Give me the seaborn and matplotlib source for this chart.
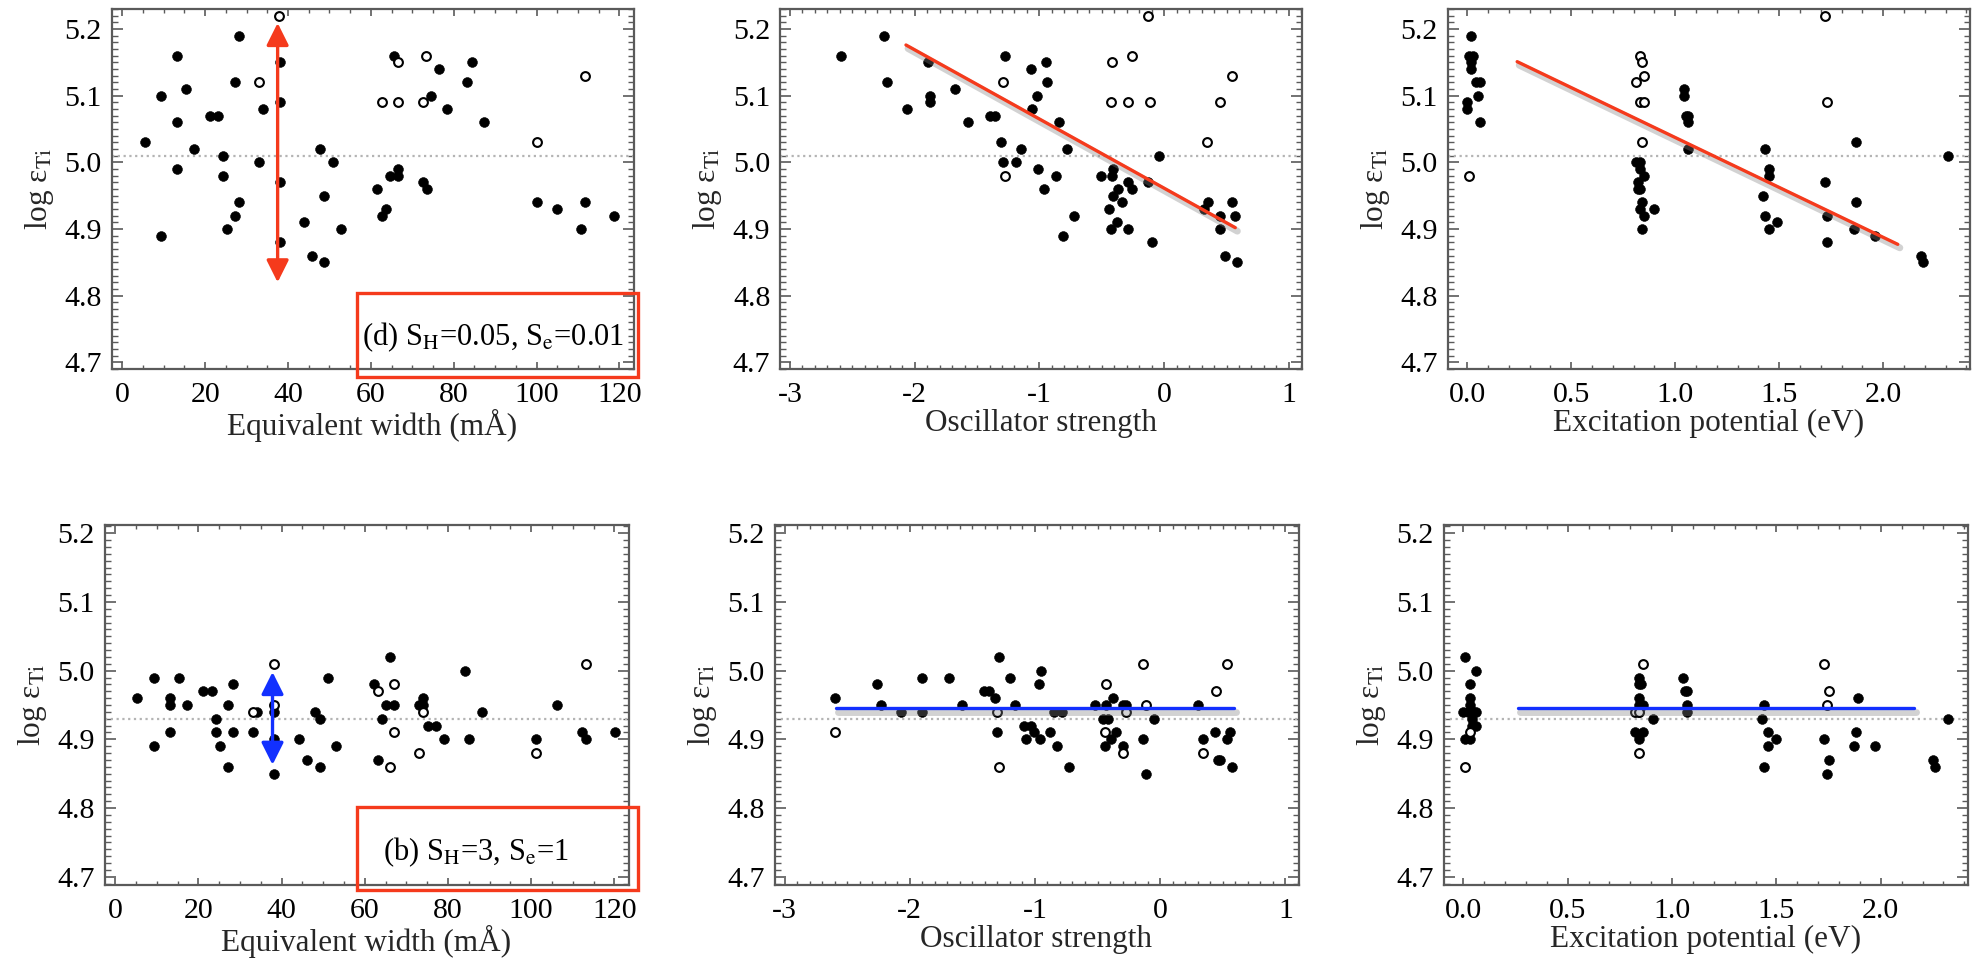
import matplotlib
matplotlib.use("Agg")
import matplotlib.pyplot as plt
import matplotlib.patheffects as pe
from matplotlib.patches import Rectangle
from matplotlib.ticker import MultipleLocator, FormatStrFormatter
import pandas as pd
import seaborn as sns

# ---------------- Model (d): S_H = 0.05, S_e = 0.01 ----------------
d_ew_fill_x = [5.5, 9.3, 9.3, 13.3, 13.3, 13.3, 15.3, 17.3, 21.2, 23.2, 24.2, 24.2, 25.2,
               27.2, 28.2, 27.2, 28.2, 33.0, 34.0, 38.0, 38.0, 38.0, 38.0, 43.8, 45.8,
               47.8, 48.8, 48.8, 50.8, 52.8, 61.6, 62.6, 63.6, 65.5, 64.6, 66.5, 66.5,
               72.5, 73.5, 74.5, 76.4, 78.4, 83.3, 84.3, 87.2, 100.0, 104.9, 110.8,
               111.8, 118.6]
d_ew_fill_y = [5.03, 5.10, 4.89, 5.16, 5.06, 4.99, 5.11, 5.02, 5.07, 5.07, 5.01, 4.98, 4.90,
               4.92, 4.94, 5.12, 5.19, 5.00, 5.08, 5.15, 5.09, 4.97, 4.88, 4.91, 4.86,
               5.02, 4.95, 4.85, 5.00, 4.90, 4.96, 4.92, 4.93, 5.16, 4.98, 4.99, 4.98,
               4.97, 4.96, 5.10, 5.14, 5.08, 5.12, 5.15, 5.06, 4.94, 4.93, 4.90,
               4.94, 4.92]
d_ew_open_x = [37.8, 33.0, 62.6, 66.5, 66.5, 72.5, 73.3, 100.0, 111.8]
d_ew_open_y = [5.22, 5.12, 5.09, 5.15, 5.09, 5.09, 5.16, 5.03, 5.13]

d_gf_fill_x = [-2.59, -2.25, -2.22, -2.06, -1.89, -1.88, -1.88, -1.68, -1.57, -1.40, -1.36,
               -1.31, -1.28, -1.29, -1.19, -1.15, -1.07, -1.06, -1.02, -1.01, -0.95, -0.94,
               -0.96, -0.87, -0.84, -0.81, -0.78, -0.72, -0.51, -0.44, -0.43, -0.42, -0.41,
               -0.41, -0.38, -0.37, -0.34, -0.29, -0.29, -0.26, -0.13, -0.10, -0.04, 0.32,
               0.35, 0.45, 0.45, 0.49, 0.54, 0.57, 0.58]
d_gf_fill_y = [5.16, 5.19, 5.12, 5.08, 5.15, 5.10, 5.09, 5.11, 5.06, 5.07, 5.07,
               5.03, 5.16, 5.00, 5.00, 5.02, 5.14, 5.08, 5.10, 4.99, 5.15, 5.12,
               4.96, 4.98, 5.06, 4.89, 5.02, 4.92, 4.98, 4.93, 4.90, 4.98, 4.99,
               4.95, 4.91, 4.96, 4.94, 4.97, 4.90, 4.96, 4.97, 4.88, 5.01, 4.93,
               4.94, 4.90, 4.92, 4.86, 4.94, 4.92, 4.85]
d_gf_open_x = [-0.13, -0.42, -0.26, -1.29, -1.28, -0.43, -0.29, -0.11, 0.34, 0.45, 0.54]
d_gf_open_y = [5.22, 5.15, 5.16, 5.12, 4.98, 5.09, 5.09, 5.09, 5.03, 5.09, 5.13]

d_ep_fill_x = [0.02, 0.01, 0.03, 0.02, 0.02, 0.04, 0.06, 0.05, 0.00, 0.00, 0.06,
               0.81, 0.83, 0.83, 0.85, 0.82, 0.83, 0.82, 0.84, 0.83, 0.85, 0.90, 0.84,
               1.04, 1.04, 1.05, 1.06, 1.06, 1.06,
               1.43, 1.45, 1.45, 1.42, 1.43, 1.45, 1.49,
               1.72, 1.73, 1.73, 1.87, 1.87, 1.86, 1.96, 2.18, 2.19, 2.31]
d_ep_fill_y = [5.19, 5.16, 5.16, 5.15, 5.14, 5.12, 5.12, 5.10, 5.09, 5.08, 5.06,
               5.00, 5.00, 4.99, 4.98, 4.97, 4.96, 4.96, 4.94, 4.93, 4.92, 4.93, 4.90,
               5.11, 5.10, 5.07, 5.07, 5.06, 5.02,
               5.02, 4.99, 4.98, 4.95, 4.92, 4.90, 4.91,
               4.97, 4.92, 4.88, 5.03, 4.94, 4.90, 4.89, 4.86, 4.85, 5.01]
d_ep_open_x = [0.01, 0.83, 0.84, 0.85, 0.81, 0.83, 0.85, 0.84, 1.72, 1.73]
d_ep_open_y = [4.98, 5.16, 5.15, 5.13, 5.12, 5.09, 5.09, 5.03, 5.22, 5.09]

d_mean = 5.01
d_gf_fit_x = [-2.07, 0.57]
d_gf_fit_y = [5.176, 4.902]
d_ep_fit_x = [0.24, 2.07]
d_ep_fit_y = [5.151, 4.877]

# ---------------- Model (b): S_H = 3, S_e = 1 ----------------
b_ew_fill_x = [5.2, 9.2, 9.2, 13.2, 13.2, 13.2, 15.2, 17.2, 21.2, 23.2, 24.2, 24.2, 25.2,
               27.1, 27.1, 28.2, 28.2, 33.1, 34.1, 38.1, 38.1, 38.1, 44.1, 46.1, 48.1,
               49.1, 49.1, 51.1, 53.1, 62.1, 63.1, 64.1, 65.1, 66.1, 67.1, 73.1, 74.1,
               74.1, 75.1, 77.2, 79.1, 84.0, 85.1, 88.1, 101.1, 106.1, 112.1, 113.1, 120.1]
b_ew_fill_y = [4.96, 4.99, 4.89, 4.96, 4.95, 4.91, 4.99, 4.95, 4.97, 4.97, 4.93, 4.91, 4.89,
               4.95, 4.86, 4.98, 4.91, 4.91, 4.94, 4.94, 4.90, 4.85, 4.90, 4.87, 4.94,
               4.93, 4.86, 4.99, 4.89, 4.98, 4.87, 4.93, 4.95, 5.02, 4.95, 4.95, 4.95,
               4.96, 4.92, 4.92, 4.90, 5.00, 4.90, 4.94, 4.90, 4.95, 4.91, 4.90, 4.91]
b_ew_open_x = [38.1, 38.1, 33.1, 63.1, 67.1, 67.1, 66.1, 74.1, 73.1, 101.1, 113.1]
b_ew_open_y = [5.01, 4.95, 4.94, 4.97, 4.98, 4.91, 4.86, 4.94, 4.88, 4.88, 5.01]

b_gf_fill_x = [-2.60, -2.26, -2.23, -2.07, -1.90, -1.90, -1.69, -1.58, -1.41, -1.37, -1.32,
               -1.29, -1.30, -1.20, -1.16, -1.09, -1.03, -1.07, -1.01, -0.97, -0.95, -0.96,
               -0.88, -0.85, -0.78, -0.82, -0.73, -0.52, -0.46, -0.42, -0.43, -0.38, -0.44,
               -0.35, -0.39, -0.30, -0.27, -0.30, -0.14, -0.05, -0.11, 0.30, 0.34, 0.44,
               0.46, 0.48, 0.53, 0.56, 0.57]
b_gf_fill_y = [4.96, 4.98, 4.95, 4.94, 4.99, 4.94, 4.99, 4.95, 4.97, 4.97, 4.96,
               5.02, 4.91, 4.99, 4.95, 4.92, 4.92, 4.90, 4.91, 4.98, 5.00, 4.90,
               4.91, 4.94, 4.94, 4.89, 4.86, 4.95, 4.93, 4.93, 4.95, 4.96, 4.89,
               4.91, 4.90, 4.95, 4.95, 4.89, 4.90, 4.93, 4.85, 4.95, 4.90, 4.91,
               4.87, 4.87, 4.90, 4.91, 4.86]
b_gf_open_x = [-2.60, -1.30, -1.29, -0.43, -0.44, -0.27, -0.30, -0.14, -0.11, 0.34, 0.45, 0.53]
b_gf_open_y = [4.91, 4.94, 4.86, 4.98, 4.91, 4.94, 4.88, 5.01, 4.95, 4.88, 4.97, 5.01]

b_ep_fill_x = [0.01, 0.03, 0.03, 0.03, 0.00, 0.02, 0.05, 0.06, 0.04, 0.04, 0.06, 0.01, 0.03,
               0.06, 0.84, 0.84, 0.85, 0.84, 0.84, 0.86, 0.84, 0.91, 0.82, 0.86, 0.84,
               1.05, 1.06, 1.07, 1.07, 1.07, 1.44, 1.43, 1.46, 1.46, 1.50, 1.44,
               1.73, 1.75, 1.74, 1.89, 1.88, 1.87, 1.97, 2.25, 2.26, 2.32]
b_ep_fill_y = [5.02, 4.98, 4.96, 4.95, 4.94, 4.94, 4.94, 4.94, 4.93, 4.92, 4.92, 4.90, 4.90,
               5.00, 4.99, 4.98, 4.98, 4.96, 4.95, 4.95, 4.94, 4.93, 4.91, 4.91, 4.90,
               4.99, 4.97, 4.97, 4.95, 4.94, 4.95, 4.93, 4.91, 4.89, 4.90, 4.86,
               4.90, 4.87, 4.85, 4.96, 4.91, 4.89, 4.89, 4.87, 4.86, 4.93]
b_ep_open_x = [0.01, 0.03, 0.86, 0.82, 0.84, 0.84, 1.73, 1.75, 1.74]
b_ep_open_y = [4.86, 4.91, 5.01, 4.94, 4.94, 4.88, 5.01, 4.97, 4.95]

b_mean = 4.93
b_gf_fit_x = [-2.59, 0.59]
b_gf_fit_y = [4.945, 4.945]
b_ep_fit_x = [0.26, 2.16]
b_ep_fit_y = [4.945, 4.945]

# Axis labels and panel captions
xlabels = ["Equivalent width (mÅ)", "Oscillator strength", "Excitation potential (eV)"]
ylabel = r"log ε$_{\mathrm{Ti}}$"
caption_d = r"(d) S$_{\mathrm{H}}$=0.05, S$_{\mathrm{e}}$=0.01"
caption_b = r"(b) S$_{\mathrm{H}}$=3, S$_{\mathrm{e}}$=1"

# ---------------- styling ----------------
sns.set_theme(style="ticks")
plt.rcParams["font.family"] = ["Liberation Serif", "DejaVu Serif"]
plt.rcParams["mathtext.fontset"] = "stix"
plt.rcParams["axes.unicode_minus"] = True

FRAME = "#5a5a5a"
RED = "#f53a1c"
BLUE = "#1230ff"

fig = plt.figure(figsize=(19.75, 9.65), dpi=100)

W, H = 1975.0, 965.0
# axes rectangles in pixels: (left, top, width, height)
top_rects = [(111.5, 9, 522, 360), (780, 9, 522, 360), (1447.5, 9, 522, 360)]
bot_rects = [(104.5, 525, 524, 360), (774.5, 525, 524, 360), (1443.5, 525, 524, 360)]
xlims = [(-2.6, 123.4), (-3.08, 1.105), (-0.095, 2.415)]
xmajor = [20, 1, 0.5]
xminor = [5, 0.1, 0.1]
xfmt = ["%d", "%d", "%.1f"]


def make_axes(rect):
    l, t, w, h = rect
    return fig.add_axes([l / W, 1 - (t + h) / H, w / W, h / H])


def style_axes(ax, col, ylim):
    ax.set_xlim(*xlims[col])
    ax.set_ylim(*ylim)
    ax.xaxis.set_major_locator(MultipleLocator(xmajor[col]))
    ax.xaxis.set_minor_locator(MultipleLocator(xminor[col]))
    ax.xaxis.set_major_formatter(FormatStrFormatter(xfmt[col]))
    ax.yaxis.set_major_locator(MultipleLocator(0.1))
    ax.yaxis.set_minor_locator(MultipleLocator(0.01))
    ax.yaxis.set_major_formatter(FormatStrFormatter("%.1f"))
    ax.tick_params(which="both", direction="in", top=True, right=True,
                   color=FRAME, labelcolor="black", labelsize=21.5)
    ax.tick_params(axis="x", which="major", length=5.2, width=1.2, pad=9)
    ax.tick_params(axis="x", which="minor", length=2.6, width=1.0)
    ax.tick_params(axis="y", which="major", length=8, width=1.2, pad=7)
    ax.tick_params(axis="y", which="minor", length=4, width=1.0)
    for sp in ax.spines.values():
        sp.set_color(FRAME)
        sp.set_linewidth(1.6)
    ax.set_xlabel(xlabels[col], fontsize=22.5, labelpad=1)
    ax.set_ylabel(ylabel, fontsize=22.5, labelpad=6)


def draw_points(ax, fx, fy, ox, oy):
    sns.scatterplot(x=fx, y=fy, ax=ax, color="black", edgecolor="black",
                    s=50, linewidth=0.4, zorder=3, legend=False)
    sns.scatterplot(x=ox, y=oy, ax=ax, color="white", edgecolor="black",
                    s=40, linewidth=1.5, zorder=3, legend=False)


def draw_fit(ax, fx, fy, color):
    line = pd.DataFrame({"x": fx, "y": fy})
    sns.lineplot(data=line, x="x", y="y", ax=ax, color=color, lw=2.4, zorder=4,
                 path_effects=[pe.SimpleLineShadow(offset=(1.5, -2.5), shadow_color="#808080",
                                                   alpha=0.35, linewidth=5),
                               pe.Normal()])
    ax.set_xlabel("")
    ax.set_ylabel("")


rows = [
    dict(rects=top_rects, ylim=(4.69, 5.23), mean=d_mean,
         pts=[(d_ew_fill_x, d_ew_fill_y, d_ew_open_x, d_ew_open_y),
              (d_gf_fill_x, d_gf_fill_y, d_gf_open_x, d_gf_open_y),
              (d_ep_fill_x, d_ep_fill_y, d_ep_open_x, d_ep_open_y)],
         fits=[None, (d_gf_fit_x, d_gf_fit_y), (d_ep_fit_x, d_ep_fit_y)],
         fitcolor=RED),
    dict(rects=bot_rects, ylim=(4.688, 5.212), mean=b_mean,
         pts=[(b_ew_fill_x, b_ew_fill_y, b_ew_open_x, b_ew_open_y),
              (b_gf_fill_x, b_gf_fill_y, b_gf_open_x, b_gf_open_y),
              (b_ep_fill_x, b_ep_fill_y, b_ep_open_x, b_ep_open_y)],
         fits=[None, (b_gf_fit_x, b_gf_fit_y), (b_ep_fit_x, b_ep_fit_y)],
         fitcolor=BLUE),
]

axes = []
for row in rows:
    row_axes = []
    for col in range(3):
        ax = make_axes(row["rects"][col])
        ax.axhline(row["mean"], color="#b4b4b4", lw=1.6, ls=(0, (1, 1.6)), zorder=1)
        draw_points(ax, *row["pts"][col])
        if row["fits"][col] is not None:
            draw_fit(ax, *row["fits"][col], row["fitcolor"])
        style_axes(ax, col, row["ylim"])
        row_axes.append(ax)
    axes.append(row_axes)

# Abundance-spread arrows on the equivalent-width panels
arrow_kw = dict(arrowstyle="<|-|>,head_length=0.9,head_width=0.45",
                lw=2.4, shrinkA=0, shrinkB=0, mutation_scale=15)
axes[0][0].annotate("", xy=(37.5, 5.209), xytext=(37.5, 4.82),
                    arrowprops=dict(color=RED, **arrow_kw), zorder=5)
axes[1][0].annotate("", xy=(37.8, 4.998), xytext=(37.8, 4.863),
                    arrowprops=dict(color=BLUE, **arrow_kw), zorder=5)

# Panel captions
axes[0][0].text(0.731, 0.089, caption_d, transform=axes[0][0].transAxes,
                ha="center", va="center", fontsize=22, color="black")
axes[1][0].text(0.709, 0.092, caption_b, transform=axes[1][0].transAxes,
                ha="center", va="center", fontsize=22, color="black")

# Highlight frames around the captions
for (x0, y0, x1, y1) in [(357, 293, 638, 377), (357, 807, 638, 890)]:
    fig.add_artist(Rectangle((x0 / W, 1 - y1 / H), (x1 - x0) / W, (y1 - y0) / H,
                             transform=fig.transFigure, fill=False, ec=RED, lw=2.4,
                             zorder=10))

fig.savefig("out.png", dpi=100)
